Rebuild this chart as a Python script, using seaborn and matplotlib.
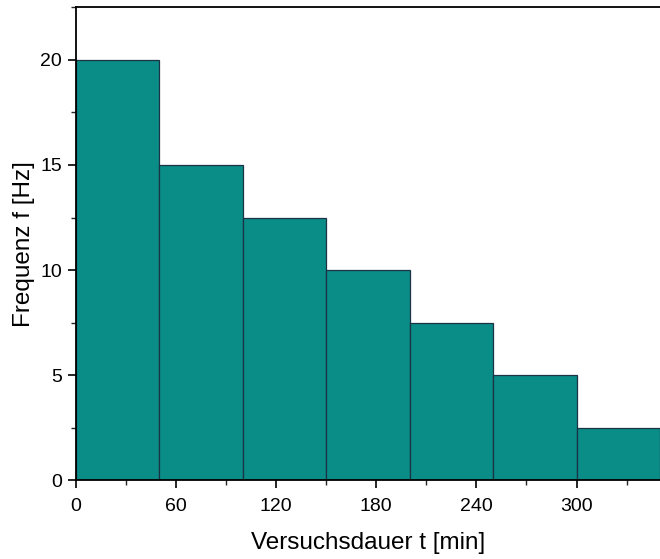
import numpy as np
import matplotlib
matplotlib.use('Agg')
import matplotlib.pyplot as plt
import seaborn as sns
from matplotlib.ticker import MultipleLocator

# Daten: Versuchsdauer-Intervalle und Frequenz
bin_edges = [0, 50, 100, 150, 200, 250, 300, 350]
bin_mitte = [25, 75, 125, 175, 225, 275, 325]
frequenz = [20, 15, 12.5, 10, 7.5, 5, 2.5]

sns.set_style('ticks')
plt.rcParams['font.family'] = ['Liberation Sans', 'DejaVu Sans']

fig = plt.figure(figsize=(6.6, 5.59), dpi=100)
ax = fig.add_axes([0.115, 0.1413, 0.885, 0.8453])

sns.histplot(x=bin_mitte, weights=frequenz, bins=bin_edges, ax=ax,
             color='#0a8c87', alpha=1.0, edgecolor='#1b3344', linewidth=0.9)

ax.set_xlim(0, 350)
ax.set_ylim(0, 22.5)
ax.xaxis.set_major_locator(MultipleLocator(60))
ax.xaxis.set_minor_locator(MultipleLocator(30))
ax.yaxis.set_major_locator(MultipleLocator(5))
ax.yaxis.set_minor_locator(MultipleLocator(2.5))
ax.tick_params(which='major', direction='out', length=6, width=1.2, labelsize=14, colors='black')
ax.tick_params(which='minor', direction='out', length=3.5, width=1.0)
ax.tick_params(axis='x', which='major', pad=7)
ax.tick_params(axis='y', which='major', pad=4)
ax.tick_params(axis='x', which='both', top=False)
ax.tick_params(axis='y', which='both', right=False)

ax.spines['right'].set_visible(False)
for s in ['left', 'bottom', 'top']:
    ax.spines[s].set_linewidth(1.3)
    ax.spines[s].set_color('black')

ax.set_xlabel('Versuchsdauer t [min]', fontsize=17.5, labelpad=12, color='black')
ax.set_ylabel('Frequenz f [Hz]', fontsize=17.5, labelpad=4, color='black')

fig.savefig('out.png', dpi=100)
